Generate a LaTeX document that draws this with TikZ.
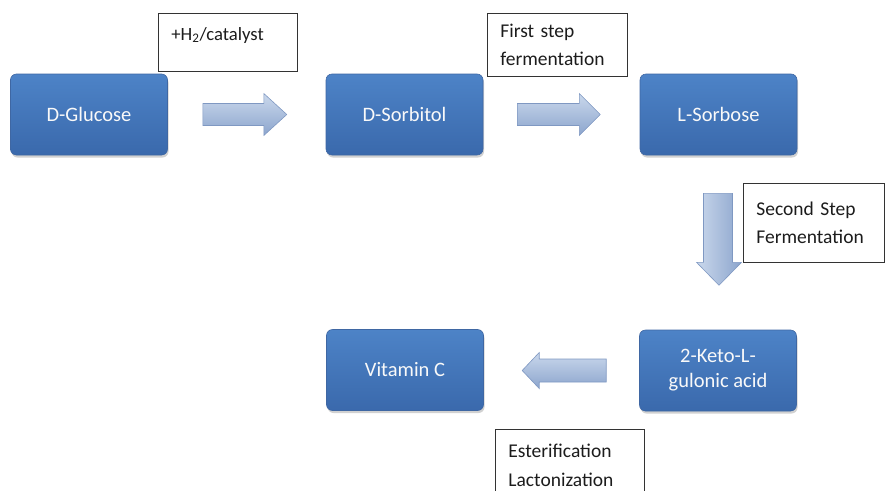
\documentclass[tikz,border=0pt]{standalone}
\usepackage{fontspec}
\setmainfont{Carlito}
\usetikzlibrary{calc,shadows}

\definecolor{stagetop}{HTML}{4D83C7}
\definecolor{stagebot}{HTML}{3A69AC}
\definecolor{stageedge}{HTML}{3F67A3}
\definecolor{arrowlight}{HTML}{CAD8EC}
\definecolor{arrowdark}{HTML}{8CA5CD}
\definecolor{arrowedge}{HTML}{7F98C2}
\definecolor{notetext}{HTML}{1C1C1C}

\tikzset{
  stage/.style={rounded corners=6pt, minimum width=157pt, minimum height=81pt,
    inner sep=0pt, top color=stagetop, bottom color=stagebot, draw=stageedge,
    line width=0.6pt, text=white!95!gray, align=center,
    font={\fontsize{20.5}{25}\selectfont},
    drop shadow={shadow xshift=1pt, shadow yshift=-2.5pt, opacity=0.3, fill=black!60}},
  note/.style={draw=black!80, line width=0.8pt, fill=white, text=notetext,
    align=left, inner xsep=13pt, anchor=north west,
    font={\fontsize{19.5}{28.5}\selectfont}},
  harrow/.style={top color=arrowlight, bottom color=arrowdark, draw=arrowedge,
    line width=0.6pt, line join=miter},
  varrow/.style={left color=arrowlight, right color=arrowdark, draw=arrowedge,
    line width=0.6pt, line join=miter}
}

\begin{document}
\begin{tikzpicture}[x=1pt,y=-1pt]
\useasboundingbox (0,0) rectangle (885,490);
\clip (0,0) rectangle (885,490);

% process stages
\node[stage] (glu)  at (89,114.5)  {D-Glucose};
\node[stage] (sor)  at (404.5,114.5) {D-Sorbitol};
\node[stage] (lsor) at (718.5,114.5) {L-Sorbose};
\node[stage] (keto) at (718,370.5) {2-Keto-L-\\gulonic acid};
\node[stage] (vitc) at (405,370) {Vitamin C};

% step annotations
\node[note, text width=113pt, inner ysep=10pt, text height=17pt, text depth=21pt,
      font={\fontsize{18.7}{24}\selectfont}]
  (h2) at (158,13) {+H\textsubscript{2}/catalyst};
\node[note, text width=114pt, minimum width=140pt, minimum height=63pt]
  (first) at (487,13) {First step\\fermentation};
\node[note, text width=115pt, minimum width=141pt, minimum height=79pt]
  (second) at (743,183) {Second Step\\Fermentation};
\node[note, text width=123pt, minimum width=149pt, minimum height=72pt]
  (ester) at (495,429) {Esterification\\Lactonization};

% block arrows between the stages
\path[harrow] ($(glu.east)+(35,-11)$) -- ++(61,0) -- ++(0,-10) -- ++(23,21)
  -- ++(-23,21) -- ++(0,-10) -- ++(-61,0) -- cycle;
\path[harrow] ($(sor.east)+(34,-11)$) -- ++(62,0) -- ++(0,-10) -- ++(21,21)
  -- ++(-21,21) -- ++(0,-10) -- ++(-62,0) -- cycle;
\path[varrow] ($(lsor.south)+(-15,38)$) -- ++(29,0) -- ++(0,69) -- ++(9,0)
  -- ++(-22.5,23) -- ++(-22.5,-23) -- ++(7,0) -- cycle;
\path[harrow] ($(keto.west)+(-33,-11.5)$) -- ++(-67,0) -- ++(0,-6.5) -- ++(-17,18)
  -- ++(17,18) -- ++(0,-6.5) -- ++(67,0) -- cycle;
\end{tikzpicture}
\end{document}
